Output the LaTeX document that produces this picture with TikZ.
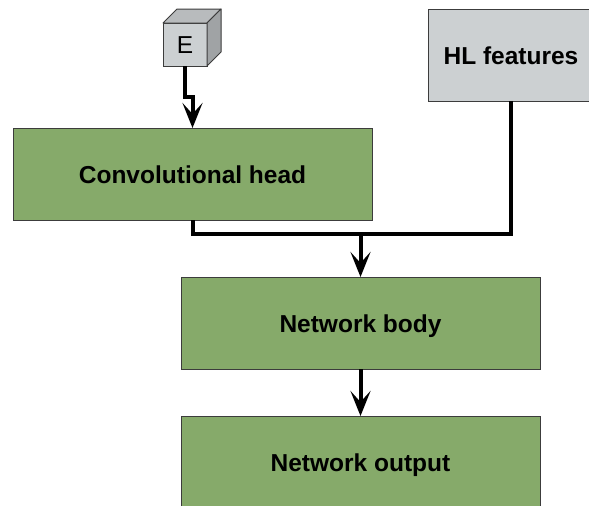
\documentclass[tikz,border=0pt]{standalone}
\usepackage{fontspec}
\setmainfont{Liberation Sans}
\usetikzlibrary{arrows.meta}
\definecolor{boxgreen}{HTML}{86AA6A}
\definecolor{boxgray}{HTML}{CCD0D2}
\definecolor{topgray}{HTML}{B8BBBD}
\definecolor{sidegray}{HTML}{A0A3A5}
\definecolor{edgegray}{HTML}{3C3C3C}
\begin{document}
\begin{tikzpicture}[x=1pt,y=-1pt,
  block/.style={draw=edgegray,line width=1pt,minimum width=359pt,minimum height=92pt,inner sep=0pt,outer sep=0pt,text height=19.5pt,text depth=0pt,font=\fontsize{24.5}{28}\selectfont\bfseries},
  greenblock/.style={block,fill=boxgreen},
  grayblock/.style={block,fill=boxgray,minimum width=166pt},
  cubefront/.style={draw=edgegray,line width=1pt,fill=boxgray,minimum width=44pt,minimum height=43pt,inner sep=0pt,outer sep=0pt,text height=18pt,text depth=0pt,font=\fontsize{24.5}{28}\selectfont},
  cubeface/.style={draw=edgegray,line width=1pt,line join=round},
  link/.style={line width=4pt,black},
  arrowlink/.style={link,-{Stealth[length=25pt,width=20pt,inset=11pt]}},
  ]
\useasboundingbox (0,0) rectangle (589,506);
\node[cubefront] (e) at (185,44.5) {E};
\draw[cubeface,fill=topgray] (e.north west) -- ++(14,-14) -- ++(44,0) -- (e.north east) -- cycle;
\draw[cubeface,fill=sidegray] (e.north east) -- ++(14,-14) -- ++(0,43) -- (e.south east) -- cycle;
\node[grayblock] (hl) at (511,55) {HL features};
\node[greenblock] (conv) at (192.5,174) {Convolutional head};
\node[greenblock] (body) at (360.5,323) {Network body};
\node[greenblock] (output) at (360.5,462) {Network output};
\coordinate (join) at (body.north |- 0,234);
\draw[arrowlink] (e.south) -- ++(0,31) -| (conv.north);
\draw[link] (conv.south) |- (join) -| (hl.south);
\draw[arrowlink] (join) -- (body.north);
\draw[arrowlink] (body.south) -- (output.north);
\end{tikzpicture}
\end{document}
